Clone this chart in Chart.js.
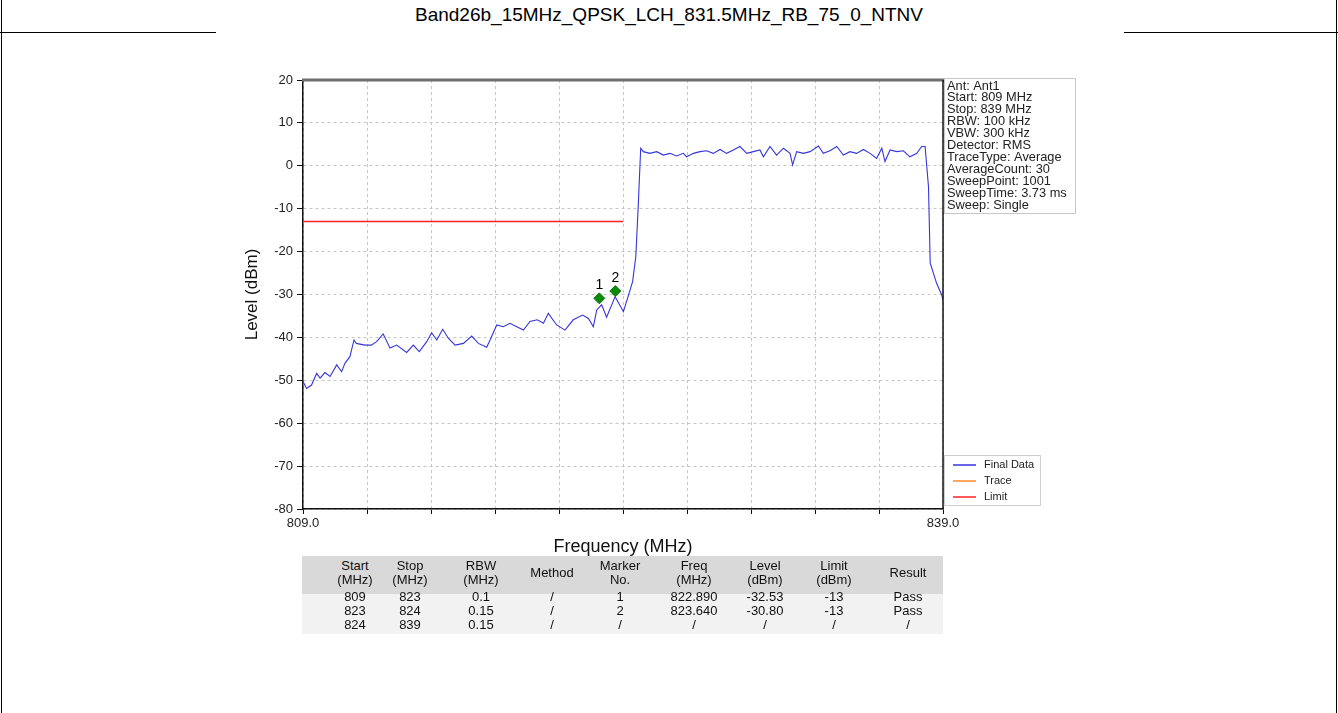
<!DOCTYPE html>
<html>
<head>
<meta charset="utf-8">
<script src="https://cdn.jsdelivr.net/npm/chart.js@4.4.0/dist/chart.umd.min.js"></script>
<style>
  body { margin: 0; background: #fff; font-family: Arial, "Liberation Sans", sans-serif; }
  #page { position: relative; width: 1338px; height: 713px; overflow: hidden; }
  #title { position: absolute; left: 0; top: 4px; width: 1338px; text-align: center; font-size: 19px; color: #000; }
  .rule { position: absolute; background: #000; }
  #chart { position: absolute; left: 0; top: 0; }
  .tbl-bg { position: absolute; }
  .cell { position: absolute; width: 76px; text-align: center; font-family: "Liberation Sans Narrow", "Arial Narrow", Arial, sans-serif; font-size: 13px; line-height: 14px; color: #111; }
</style>
</head>
<body>
<div id="page">
  <div id="title">Band26b_15MHz_QPSK_LCH_831.5MHz_RB_75_0_NTNV</div>
  <div class="rule" style="left:1px;top:0;width:1px;height:713px"></div>
  <div class="rule" style="left:1336px;top:0;width:1px;height:713px"></div>
  <div class="rule" style="left:0;top:32px;width:216px;height:1px"></div>
  <div class="rule" style="left:1124px;top:32px;width:214px;height:1px"></div>
  <canvas id="chart" width="1338" height="713"></canvas>
  <div class="tbl-bg" style="left:302px;top:556px;width:641px;height:38px;background:#d9d9d9"></div>
  <div class="tbl-bg" style="left:302px;top:594px;width:641px;height:40px;background:#f2f2f2"></div>
  <div id="tbl"></div>
</div>
<script>
// trace (MHz / dBm)
const freqs = [
  809.00, 809.17, 809.40, 809.64, 809.80, 810.03, 810.27, 810.58, 810.81, 810.97,
  811.20, 811.39, 811.50, 811.90, 812.20, 812.45, 812.76, 813.08, 813.39, 813.86,
  814.17, 814.45, 814.80, 815.03, 815.27, 815.55, 815.81, 816.13, 816.52, 816.91,
  817.22, 817.61, 817.77, 818.08, 818.39, 818.70, 819.02, 819.33, 819.64, 819.98,
  820.27, 820.50, 820.89, 821.28, 821.67, 822.11, 822.38, 822.61, 822.77, 823.00,
  823.23, 823.63, 824.02, 824.33, 824.45, 824.60, 824.72, 824.83, 824.95, 825.26,
  825.58, 825.89, 826.20, 826.51, 826.83, 826.98, 827.30, 827.61, 827.92, 828.23,
  828.55, 828.86, 829.17, 829.48, 829.80, 830.11, 830.42, 830.58, 830.89, 831.20,
  831.52, 831.83, 831.95, 832.14, 832.45, 832.77, 833.16, 833.39, 833.70, 834.02,
  834.33, 834.64, 834.95, 835.27, 835.58, 835.89, 836.13, 836.28, 836.52, 836.83,
  837.14, 837.45, 837.77, 838.00, 838.16, 838.32, 838.40, 838.55, 838.70, 838.94,
  839.00
];
const levels = [
  -50.3, -51.9, -51.1, -48.4, -49.5, -48.2, -49.1, -46.4, -48.0, -46.0,
  -44.5, -40.6, -41.4, -41.8, -41.8, -41.0, -39.2, -42.5, -41.8, -43.5,
  -41.8, -43.3, -41.0, -38.9, -40.6, -38.1, -40.2, -41.8, -41.4, -39.7,
  -41.4, -42.3, -40.6, -37.1, -37.5, -36.7, -37.5, -38.3, -36.3, -35.9,
  -36.7, -34.4, -37.1, -38.3, -35.9, -34.8, -35.6, -37.5, -33.6, -32.4,
  -35.3, -30.5, -34.0, -29.0, -27.0, -21.2, -8.7, 4.1, 3.3, 2.9,
  3.3, 2.5, 2.9, 2.3, 2.9, 2.1, 2.9, 3.3, 3.5, 2.9,
  3.8, 2.9, 3.7, 4.5, 2.9, 3.3, 3.7, 2.1, 4.5, 2.5,
  4.1, 2.9, 0.2, 3.3, 2.9, 3.3, 4.6, 2.9, 3.5, 4.5,
  2.5, 3.3, 2.9, 3.8, 2.9, 1.7, 4.1, 1.0, 3.7, 3.3,
  3.5, 2.1, 2.9, 4.5, 4.5, -4.9, -22.7, -25.0, -27.4, -30.1,
  -31.3
];
const limitFreqs = [809, 824];
const limitLevels = [-13, -13];
const markerFreqs = [822.89, 823.64];
const markerLevels = [-30.9, -29.2];
const markerNames = ['1', '2'];
const xTicks = [809, 812, 815, 818, 821, 824, 827, 830, 833, 836, 839];

const infoLines = [
  'Ant: Ant1', 'Start: 809 MHz', 'Stop: 839 MHz', 'RBW: 100 kHz', 'VBW: 300 kHz',
  'Detector: RMS', 'TraceType: Average', 'AverageCount: 30', 'SweepPoint: 1001',
  'SweepTime: 3.73 ms', 'Sweep: Single'
];

// result table
const colX = [355, 410, 481, 552, 620, 694, 765, 834, 908];
const headRows = [
  ['Start', 'Stop', 'RBW', '', 'Marker', 'Freq', 'Level', 'Limit', ''],
  ['(MHz)', '(MHz)', '(MHz)', 'Method', 'No.', '(MHz)', '(dBm)', '(dBm)', 'Result']
];
const bodyRows = [
  ['809', '823', '0.1', '/', '1', '822.890', '-32.53', '-13', 'Pass'],
  ['823', '824', '0.15', '/', '2', '823.640', '-30.80', '-13', 'Pass'],
  ['824', '839', '0.15', '/', '/', '/', '/', '/', '/']
];

function buildTable() {
    const tbl = document.getElementById('tbl');
    let html = '';
    colX.forEach((x, i) => {
        const single = headRows[0][i] === '';
        if (single) {
            html += `<div class="cell" style="left:${x - 38}px;top:566px">${headRows[1][i]}</div>`;
        } else {
            html += `<div class="cell" style="left:${x - 38}px;top:559px">${headRows[0][i]}</div>`;
            html += `<div class="cell" style="left:${x - 38}px;top:573px">${headRows[1][i]}</div>`;
        }
        bodyRows.forEach((row, r) => {
            html += `<div class="cell" style="left:${x - 38}px;top:${590 + r * 14}px">${row[i]}</div>`;
        });
    });
    tbl.innerHTML = html;
}
buildTable();

const toPts = (xs, ys) => xs.map((x, i) => ({ x: x, y: ys[i] }));

// frame, marker numbers, info box and legend
const extras = {
    id: 'extras',
    afterDatasetsDraw(chart) {
        const ctx = chart.ctx;
        const meta = chart.getDatasetMeta(3);
        ctx.save();
        ctx.font = '14px Arial';
        ctx.fillStyle = '#000';
        ctx.textAlign = 'center';
        ctx.textBaseline = 'alphabetic';
        meta.data.forEach((p, i) => ctx.fillText(markerNames[i], p.x, p.y - 9));
        ctx.restore();
    },
    afterDraw(chart) {
        const ctx = chart.ctx;
        const a = chart.chartArea;
        ctx.save();
        // top and right spines
        ctx.strokeStyle = '#6e6e6e';
        ctx.lineWidth = 3;
        ctx.beginPath(); ctx.moveTo(a.left - 1, a.top); ctx.lineTo(a.right + 1, a.top); ctx.stroke();
        ctx.strokeStyle = '#111';
        ctx.lineWidth = 1.5;
        ctx.beginPath(); ctx.moveTo(a.right, a.top); ctx.lineTo(a.right, a.bottom); ctx.stroke();

        // info box
        ctx.strokeStyle = '#c8c8c8';
        ctx.lineWidth = 1;
        ctx.strokeRect(944.5, 78.5, 131, 135);
        ctx.fillStyle = '#222';
        ctx.font = '12.8px Arial';
        ctx.textAlign = 'left';
        ctx.textBaseline = 'middle';
        infoLines.forEach((t, i) => ctx.fillText(t, 947, 86 + i * 11.9));

        // legend
        ctx.strokeStyle = '#d0d0d0';
        ctx.strokeRect(944.5, 455.5, 96, 50);
        ctx.font = '11px Arial';
        chart.data.datasets.slice(0, 3).forEach((ds, i) => {
            const y = 465 + i * 16;
            ctx.strokeStyle = ds.borderColor;
            ctx.lineWidth = 1.5;
            ctx.beginPath(); ctx.moveTo(953, y); ctx.lineTo(976, y); ctx.stroke();
            ctx.fillStyle = '#222';
            ctx.fillText(ds.label, 984, y);
        });
        ctx.restore();
    }
};

const gridCommon = { color: '#c6c6c6', lineWidth: 1, tickColor: '#111', tickLength: 6 };

new Chart(document.getElementById('chart').getContext('2d'), {
    type: 'line',
    data: {
        datasets: [
            {
                label: 'Final Data',
                data: toPts(freqs, levels),
                borderColor: '#3535dc',
                borderWidth: 1.1,
                pointRadius: 0,
                tension: 0
            },
            {
                label: 'Trace',
                data: [],
                borderColor: '#ff8a2a',
                pointRadius: 0
            },
            {
                label: 'Limit',
                data: toPts(limitFreqs, limitLevels),
                borderColor: '#ff2020',
                borderWidth: 1.6,
                pointRadius: 0
            },
            {
                label: 'Markers',
                data: toPts(markerFreqs, markerLevels),
                showLine: false,
                pointStyle: 'rectRot',
                pointRadius: 5.5,
                backgroundColor: '#0b8a0b',
                borderColor: '#0b7a0b',
                borderWidth: 1
            }
        ]
    },
    options: {
        responsive: false,
        animation: false,
        devicePixelRatio: 1,
        layout: { padding: { left: 238, right: 395, top: 80, bottom: 151 } },
        plugins: {
            legend: { display: false },
            tooltip: { enabled: false }
        },
        scales: {
            x: {
                type: 'linear',
                min: 809,
                max: 839,
                afterBuildTicks: s => { s.ticks = xTicks.map(v => ({ value: v })); },
                afterFit: s => { s.height = 53; },
                ticks: {
                    autoSkip: false,
                    maxRotation: 0,
                    padding: 2,
                    color: '#222',
                    font: { family: 'Arial', size: 13 },
                    callback: v => (v === 809 || v === 839) ? v.toFixed(1) : ''
                },
                grid: Object.assign({}, gridCommon, { tickLength: 5 }),
                border: { color: '#111', width: 1.5, dash: [3, 3] },
                title: {
                    display: true,
                    text: 'Frequency (MHz)',
                    color: '#111',
                    font: { family: 'Arial', size: 18 },
                    padding: { top: 4, bottom: 4 }
                }
            },
            y: {
                min: -80,
                max: 20,
                afterFit: s => { s.width = 65; },
                ticks: {
                    stepSize: 10,
                    padding: 4,
                    color: '#222',
                    font: { family: 'Arial', size: 13 }
                },
                grid: gridCommon,
                border: { color: '#111', width: 1.5, dash: [3, 3] },
                title: {
                    display: true,
                    text: 'Level (dBm)',
                    color: '#111',
                    font: { family: 'Arial', size: 17 },
                    padding: { top: 4, bottom: 4 }
                }
            }
        }
    },
    plugins: [extras]
});
</script>
</body>
</html>
